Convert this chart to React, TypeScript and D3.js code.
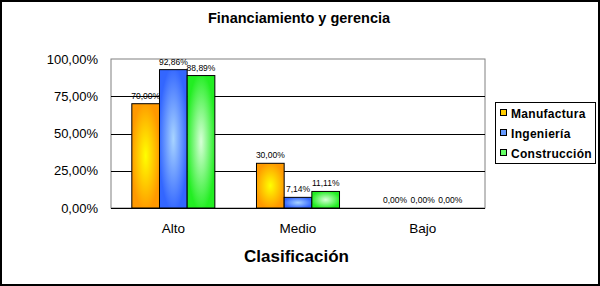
import React from "react";
import * as d3 from "d3";

const categories = ["Alto", "Medio", "Bajo"];
const seriesNames = ["Manufactura", "Ingeniería", "Construcción"];
const manufactura = [70.0, 30.0, 0.0];
const ingenieria = [92.86, 7.14, 0.0];
const construccion = [88.89, 11.11, 0.0];
const yTicks = [0, 25, 50, 75, 100];

const seriesValues = [manufactura, ingenieria, construccion];
const edgeColors = ["#FF9900", "#3366FF", "#22EE22"];
const centerColors = ["#FFFF00", "#A8D4FF", "#D8FFD8"];
const legendColors = ["#FFCC00", "#6699FF", "#66FF66"];

const W = 600;
const H = 286;
const plot = { left: 111, right: 485, top: 59, bottom: 208 };
const fmt = (v: number) => v.toFixed(2).replace(".", ",") + "%";

export default function App() {
  const x0 = d3.scaleBand<string>().domain(categories).range([plot.left, plot.right]).paddingInner(0.334).paddingOuter(0.167);
  const x1 = d3.scaleBand<string>().domain(seriesNames).range([0, x0.bandwidth()]);
  const y = d3.scaleLinear().domain([0, 100]).range([plot.bottom, plot.top]);
  const font = "Arial, 'Liberation Sans', sans-serif";

  return (
    <svg width={W} height={H} style={{ position: "absolute", left: 0, top: 0, background: "#fff" }} fontFamily={font}>
      <defs>
        {seriesNames.map((s, i) => (
          <radialGradient key={s} id={`g${i}`} cx="0.5" cy="0.5" r="0.7" fx="0.5" fy="0.5">
            <stop offset="0" stopColor={centerColors[i]} />
            <stop offset="0.75" stopColor={edgeColors[i]} />
            <stop offset="1" stopColor={edgeColors[i]} />
          </radialGradient>
        ))}
      </defs>
      <rect x={1} y={1} width={W - 2} height={H - 2} fill="#fff" stroke="#000" strokeWidth={2} />
      <text x={299} y={22.5} textAnchor="middle" fontSize={14.5} fontWeight="bold">
        Financiamiento y gerencia
      </text>
      <rect x={plot.left} y={plot.top} width={plot.right - plot.left} height={plot.bottom - plot.top} fill="#fff" stroke="#808080" strokeWidth={1} />
      {yTicks.filter((t) => t > 0 && t < 100).map((t) => (
        <line key={t} x1={plot.left} x2={plot.right} y1={Math.round(y(t)) + 0.5} y2={Math.round(y(t)) + 0.5} stroke="#000" />
      ))}
      {yTicks.map((t) => (
        <text key={t} x={98} y={y(t) + 4.5} textAnchor="end" fontSize={13}>
          {fmt(t)}
        </text>
      ))}
      {categories.map((c, ci) =>
        seriesNames.map((s, si) => {
          const v = seriesValues[si][ci];
          const bx = (x0(c) ?? 0) + (x1(s) ?? 0);
          const by = y(v);
          return (
            <g key={c + s}>
              {v > 0 && (
                <rect x={bx} y={by} width={x1.bandwidth()} height={plot.bottom - by} fill={`url(#g${si})`} stroke="#000" strokeWidth={1} />
              )}
              <text x={bx + x1.bandwidth() / 2} y={by - 5} textAnchor="middle" fontSize={8.5}>
                {fmt(v)}
              </text>
            </g>
          );
        })
      )}
      <line x1={plot.left} x2={plot.right} y1={plot.bottom + 0.5} y2={plot.bottom + 0.5} stroke="#000" />
      {categories.map((c) => (
        <text key={c} x={(x0(c) ?? 0) + x0.bandwidth() / 2} y={232.5} textAnchor="middle" fontSize={13.5}>
          {c}
        </text>
      ))}
      <text x={296.5} y={262} textAnchor="middle" fontSize={17} fontWeight="bold">
        Clasificación
      </text>
      <rect x={495.5} y={102.5} width={100} height={61} fill="#fff" stroke="#000" strokeWidth={1} />
      {seriesNames.map((s, i) => (
        <g key={s} transform={`translate(500, ${113 + i * 20})`}>
          <rect x={0.5} y={-3.5} width={6} height={6} fill={legendColors[i]} stroke="#000" strokeWidth={1} />
          <text x={11} y={4.5} fontSize={12} fontWeight="bold" letterSpacing={0.3}>
            {s}
          </text>
        </g>
      ))}
    </svg>
  );
}
